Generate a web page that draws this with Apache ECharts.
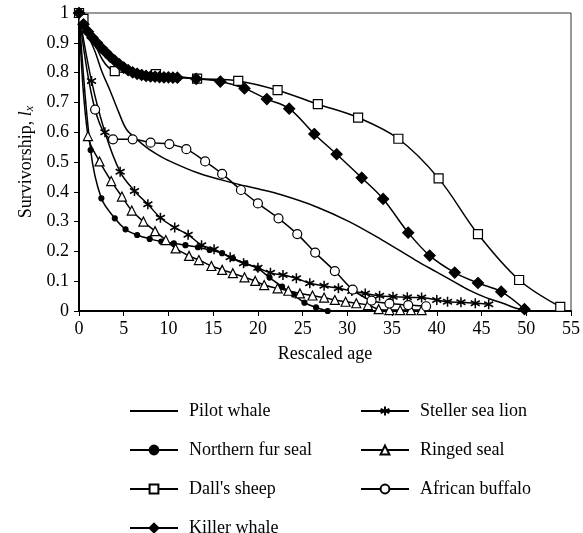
<!DOCTYPE html>
<html>
<head>
<meta charset="utf-8">
<title>Survivorship curves</title>
<script src="https://cdn.jsdelivr.net/npm/echarts@6/dist/echarts.min.js"></script>
<style>
  html, body { margin: 0; padding: 0; background: #fff; }
  #chart { width: 583px; height: 533px; }
</style>
</head>
<body>
<div id="chart"></div>
<script>
// Survivorship (l_x) against rescaled age for seven mammal populations
const xTicks = [0, 5, 10, 15, 20, 25, 30, 35, 40, 45, 50, 55];
const yTicks = [0, 0.1, 0.2, 0.3, 0.4, 0.5, 0.6, 0.7, 0.8, 0.9, 1];

const pilotWhaleAge = [0, 0.5, 1.0, 1.8, 2.6, 3.4, 4.4, 5.3, 6.5, 7.5, 8.5, 10.0, 13.4, 17.2, 20.0, 22.7, 26.5, 30.2, 33.9, 37.6, 39.9, 41.8, 43.6, 45.5, 47.3, 48.6, 50.0];
const pilotWhaleLx  = [1, 0.96, 0.925, 0.87, 0.80, 0.745, 0.67, 0.61, 0.575, 0.55, 0.53, 0.505, 0.462, 0.43, 0.41, 0.389, 0.35, 0.30, 0.238, 0.171, 0.132, 0.10, 0.07, 0.045, 0.027, 0.012, 0.0];

const furSealAge = [0, 1.3, 2.5, 4.0, 5.2, 6.5, 7.9, 9.2, 10.6, 11.9, 13.3, 14.6, 16.0, 17.2, 18.6, 20.0, 21.3, 22.7, 24.0, 25.2, 26.5, 27.8];
const furSealLx  = [1, 0.540, 0.378, 0.311, 0.274, 0.255, 0.242, 0.233, 0.227, 0.221, 0.214, 0.205, 0.194, 0.177, 0.160, 0.143, 0.112, 0.082, 0.055, 0.028, 0.012, 0.0];

const dallSheepAge = [0, 0.5, 4.0, 8.6, 13.2, 17.8, 22.2, 26.7, 31.2, 35.7, 40.2, 44.6, 49.2, 53.8];
const dallSheepLx  = [1, 0.98, 0.805, 0.795, 0.78, 0.772, 0.741, 0.694, 0.649, 0.578, 0.445, 0.258, 0.104, 0.014];

const killerWhaleAge = [0, 0.5, 1.0, 1.5, 2.0, 2.5, 3.0, 3.5, 4.0, 4.5, 5.0, 5.5, 6.0, 6.5, 7.0, 7.5, 8.0, 8.5, 9.0, 9.5, 10.0, 10.5, 11.0, 13.1, 15.8, 18.5, 21.0, 23.5, 26.3, 28.8, 31.6, 34.0, 36.8, 39.2, 42.0, 44.6, 47.2, 49.8];
const killerWhaleLx  = [1, 0.962, 0.937, 0.917, 0.900, 0.883, 0.868, 0.853, 0.840, 0.828, 0.817, 0.808, 0.801, 0.796, 0.792, 0.789, 0.787, 0.786, 0.785, 0.784, 0.784, 0.783, 0.783, 0.779, 0.770, 0.747, 0.711, 0.679, 0.594, 0.526, 0.447, 0.376, 0.263, 0.186, 0.129, 0.094, 0.065, 0.006];

const stellerAge = [0, 1.4, 2.9, 4.6, 6.2, 7.7, 9.1, 10.7, 12.2, 13.7, 15.1, 16.9, 18.4, 20.0, 21.4, 22.8, 24.3, 25.8, 27.4, 29.0, 30.5, 32.0, 33.6, 35.1, 36.7, 38.3, 40.0, 41.2, 42.7, 44.3, 45.8];
const stellerLx  = [1, 0.772, 0.600, 0.467, 0.403, 0.358, 0.313, 0.280, 0.256, 0.221, 0.207, 0.180, 0.160, 0.145, 0.128, 0.121, 0.110, 0.093, 0.085, 0.076, 0.067, 0.059, 0.051, 0.048, 0.046, 0.045, 0.037, 0.031, 0.029, 0.026, 0.023];

const ringedSealAge = [0, 1.0, 2.3, 3.6, 4.8, 5.9, 7.2, 8.5, 9.7, 10.8, 12.3, 13.4, 14.8, 16.0, 17.2, 18.5, 19.7, 20.7, 22.2, 23.4, 24.7, 26.1, 27.4, 28.6, 29.8, 31.0, 32.3, 33.5, 34.7, 35.9, 37.1, 38.3];
const ringedSealLx  = [1, 0.587, 0.502, 0.436, 0.384, 0.337, 0.300, 0.268, 0.238, 0.210, 0.185, 0.171, 0.151, 0.138, 0.127, 0.113, 0.101, 0.087, 0.076, 0.068, 0.059, 0.052, 0.045, 0.037, 0.031, 0.026, 0.020, 0.006, 0.003, 0.003, 0.003, 0.003];

const buffaloAge = [0, 1.8, 3.8, 6.0, 8.0, 10.1, 12.0, 14.1, 16.0, 18.1, 20.0, 22.3, 24.4, 26.4, 28.6, 30.6, 32.7, 34.7, 36.8, 38.8];
const buffaloLx  = [1, 0.676, 0.576, 0.576, 0.565, 0.560, 0.543, 0.502, 0.460, 0.406, 0.361, 0.311, 0.258, 0.196, 0.134, 0.072, 0.035, 0.025, 0.020, 0.016];

const pairs = (xs, ys) => xs.map((x, i) => [x, ys[i]]);

// six-armed asterisk marker, drawn as strokes only
const asteriskPath = 'path://M0,-10L0,10M-8.66,-5L8.66,5M-8.66,5L8.66,-5';

const FONT = '"Liberation Serif", "DejaVu Serif", serif';
const INK = '#000';

function lineSeries(name, data, extra) {
  return Object.assign({
    name: name,
    type: 'line',
    data: data,
    smooth: 0.35,
    lineStyle: { color: INK, width: 1.5 },
    itemStyle: { color: INK, borderColor: INK, borderWidth: 1.2 },
    emphasis: { disabled: true },
    animation: false
  }, extra);
}

const legendText = { fontFamily: FONT, fontSize: 18, color: INK, lineHeight: 18, padding: [0, 0, 0, 6] };

const chart = echarts.init(document.getElementById('chart'), null, { renderer: 'canvas' });

chart.setOption({
  backgroundColor: '#fff',
  animation: false,
  textStyle: { fontFamily: FONT, color: INK },
  grid: {
    left: 79, right: 9, top: 13, bottom: 222,
    show: true, borderColor: '#333', borderWidth: 1, backgroundColor: 'transparent'
  },
  xAxis: {
    type: 'value',
    min: xTicks[0], max: xTicks[xTicks.length - 1], interval: 5,
    name: 'Rescaled age',
    nameLocation: 'middle',
    nameGap: 34,
    nameTextStyle: { fontFamily: FONT, fontSize: 18, color: INK },
    axisLine: { onZero: false, lineStyle: { color: INK, width: 2 } },
    axisTick: { show: true, inside: false, length: 5, lineStyle: { color: INK, width: 1 } },
    axisLabel: { fontFamily: FONT, fontSize: 18, color: INK, margin: 9 },
    splitLine: { show: false }
  },
  yAxis: {
    type: 'value',
    min: yTicks[0], max: yTicks[yTicks.length - 1], interval: 0.1,
    name: 'Survivorship, {i|l}{sub|x}',
    nameLocation: 'middle',
    nameGap: 41,
    nameRotate: 90,
    nameTextStyle: {
      fontFamily: FONT, fontSize: 18, color: INK,
      rich: {
        i: { fontFamily: FONT, fontSize: 18, fontStyle: 'italic', color: INK },
        sub: { fontFamily: FONT, fontSize: 12, fontStyle: 'italic', color: INK, verticalAlign: 'bottom', lineHeight: 12, padding: [8, 0, 0, 0] }
      }
    },
    axisLine: { onZero: false, lineStyle: { color: INK, width: 2 } },
    axisTick: { show: true, inside: false, length: 5, lineStyle: { color: INK, width: 1 } },
    axisLabel: {
      fontFamily: FONT, fontSize: 18, color: INK, margin: 10,
      formatter: v => (v === 0 || v === 1) ? String(v) : v.toFixed(1)
    },
    splitLine: { show: false }
  },
  legend: [
    {
      data: [
        // plain line sample: keep the line, make the marker invisible
        {
          name: 'Pilot whale',
          itemStyle: { color: 'rgba(255,255,255,0)', borderColor: 'rgba(255,255,255,0)', borderWidth: 0 },
          lineStyle: { color: INK, width: 2, opacity: 1 }
        },
        'Northern fur seal', "Dall's sheep", 'Killer whale'
      ],
      orient: 'vertical', left: 124, top: 397, height: 200,
      itemWidth: 48, itemHeight: 11, itemGap: 21,
      textStyle: legendText,
      selectedMode: false
    },
    {
      data: ['Steller sea lion', 'Ringed seal', 'African buffalo'],
      orient: 'vertical', left: 355, top: 397, height: 200,
      itemWidth: 48, itemHeight: 11, itemGap: 21,
      textStyle: legendText,
      selectedMode: false
    }
  ],
  series: [
    lineSeries('Pilot whale', pairs(pilotWhaleAge, pilotWhaleLx), { symbol: 'circle', showSymbol: false }),
    lineSeries('Northern fur seal', pairs(furSealAge, furSealLx), { symbol: 'circle', symbolSize: 5 }),
    lineSeries('Ringed seal', pairs(ringedSealAge, ringedSealLx), {
      symbol: 'triangle', symbolSize: 9,
      itemStyle: { color: '#fff', borderColor: INK, borderWidth: 1.2 }
    }),
    lineSeries('Steller sea lion', pairs(stellerAge, stellerLx), {
      symbol: asteriskPath, symbolSize: [9, 10],
      itemStyle: { color: 'none', borderColor: INK, borderWidth: 1.6 }
    }),
    lineSeries('African buffalo', pairs(buffaloAge, buffaloLx), {
      symbol: 'circle', symbolSize: 9,
      itemStyle: { color: '#fff', borderColor: INK, borderWidth: 1.2 }
    }),
    lineSeries("Dall's sheep", pairs(dallSheepAge, dallSheepLx), {
      symbol: 'rect', symbolSize: 9,
      itemStyle: { color: '#fff', borderColor: INK, borderWidth: 1.2 }
    }),
    lineSeries('Killer whale', pairs(killerWhaleAge, killerWhaleLx), {
      symbol: 'diamond', symbolSize: 11
    })
  ]
});
</script>
</body>
</html>
